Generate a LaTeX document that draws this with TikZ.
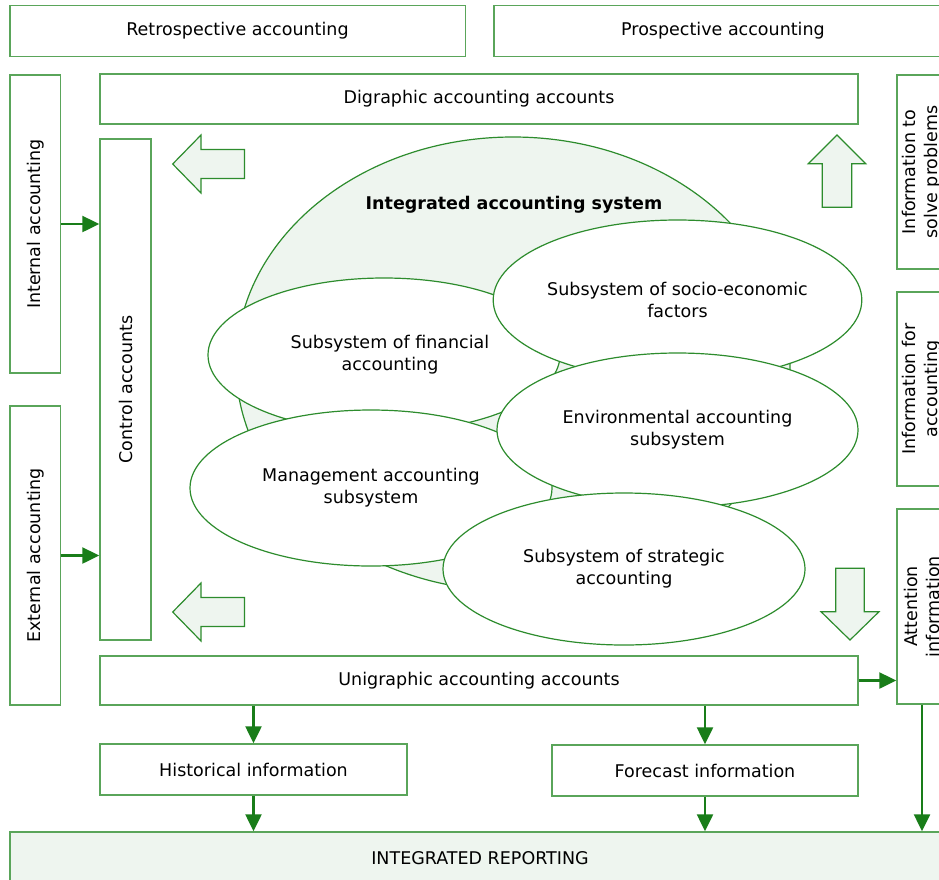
\documentclass[tikz,border=0pt]{standalone}
\usepackage{fontspec}
\setmainfont{DejaVu Sans}
\usepackage{xcolor}
\usetikzlibrary{shapes.geometric, arrows.meta, calc}
\definecolor{boxline}{RGB}{90,165,90}
\definecolor{ellline}{RGB}{45,140,45}
\definecolor{flowgreen}{RGB}{25,125,25}
\definecolor{lightfill}{RGB}{238,245,239}

\begin{document}
\begin{tikzpicture}[x=1pt, y=-1pt,
    every node/.style={font=\fontsize{17.5}{22}\selectfont, align=center, inner sep=0pt},
    box/.style={draw=boxline, line width=1.5pt, fill=white},
    sub/.style={ellipse, draw=ellline, line width=1.2pt, fill=white},
    bigarrow/.style={draw=ellline, line width=1.2pt, fill=lightfill, line join=miter},
    flow/.style={draw=flowgreen, line width=2.5pt, -{Triangle[length=17pt,width=16pt]}}]
  \useasboundingbox (0,0) rectangle (939,879);
  \fill[white] (0,0) rectangle (939,879);
  \clip (0,0) rectangle (939,879);

  \node[box, minimum width=455.5, minimum height=50.6] (retro) at (237.5,31) {Retrospective accounting};
  \node[box, minimum width=458, minimum height=50.6] (prosp) at (723,31) {Prospective accounting};
  \node[box, rotate=90, minimum width=298, minimum height=50.6] (internal) at (35.3,224) {Internal accounting};
  \node[box, rotate=90, minimum width=299, minimum height=50.6] (external) at (35.3,555.5) {External accounting};
  \node[box, minimum width=758, minimum height=50] (digraph) at (479,99) {Digraphic accounting accounts};
  \node[box, rotate=90, minimum width=501, minimum height=51] (control) at (125.5,389.5) {Control accounts};
  \node[box, minimum width=758, minimum height=49] (unigraph) at (479,680.5) {Unigraphic accounting accounts};
  \node[box, rotate=90, minimum width=194, minimum height=50] (solve) at (922,172) {Information to\\solve problems};
  \node[box, rotate=90, minimum width=194, minimum height=50] (forinfo) at (922,389) {Information for\\accounting};
  \node[box, rotate=90, minimum width=195, minimum height=50] (attention) at (922,606.5) {Attention\\information};
  \node[box, minimum width=307, minimum height=51] (hist) at (253.5,769.5) {Historical information};
  \node[box, minimum width=306, minimum height=51] (fore) at (705,770.5) {Forecast information};
  \node[box, fill=lightfill, minimum width=940, minimum height=52] (report) at (480,858) {INTEGRATED REPORTING};

  \node[ellipse, draw=ellline, line width=1.2pt, fill=lightfill, minimum width=554, minimum height=454] (ias) at (513,364) {};
  \node[font=\fontsize{17.5}{22}\selectfont\bfseries] (title) at (514,205) {Integrated accounting system};
  \node[sub, minimum width=352, minimum height=154] (financial) at (384,355) {\hspace*{12pt}Subsystem of financial\\\hspace*{12pt}accounting};
  \node[sub, minimum width=362, minimum height=156] (management) at (371,488) {Management accounting\\subsystem};
  \node[sub, minimum width=361, minimum height=160] (socio) at (677.5,300) {Subsystem of socio-economic\\factors};
  \node[sub, minimum width=361, minimum height=154] (environ) at (677.5,430) {Environmental accounting\\subsystem};
  \node[sub, minimum width=362, minimum height=152] (strategic) at (624,569) {Subsystem of strategic\\accounting};

  \draw[bigarrow] (172.7,164) -- (201,135) -- (201,149.5) -- (244.5,149.5) -- (244.5,178.5) -- (201,178.5) -- (201,193) -- cycle;
  \draw[bigarrow, shift={(0,448)}] (172.7,164) -- (201,135) -- (201,149.5) -- (244.5,149.5) -- (244.5,178.5) -- (201,178.5) -- (201,193) -- cycle;
  \draw[bigarrow] (837,135) -- (865.7,163.7) -- (851.7,163.7) -- (851.7,207.3) -- (822.3,207.3) -- (822.3,163.7) -- (808.3,163.7) -- cycle;
  \draw[bigarrow] (850,640) -- (879,611.7) -- (864.3,611.7) -- (864.3,568.3) -- (835.7,568.3) -- (835.7,611.7) -- (821,611.7) -- cycle;

  \draw[flow] (internal.south) -- (control.north |- internal.south);
  \draw[flow] (external.south) -- (control.north |- external.south);
  \draw[flow] (unigraph.east) -- (unigraph.east -| attention.north);
  \draw[flow] (hist.north |- unigraph.south) -- (hist.north);
  \draw[flow] (fore.north |- unigraph.south) -- (fore.north);
  \draw[flow] (hist.south) -- (hist.south |- report.north);
  \draw[flow] (fore.south) -- (fore.south |- report.north);
  \draw[flow] (attention.west) -- (attention.west |- report.north);
\end{tikzpicture}
\end{document}
